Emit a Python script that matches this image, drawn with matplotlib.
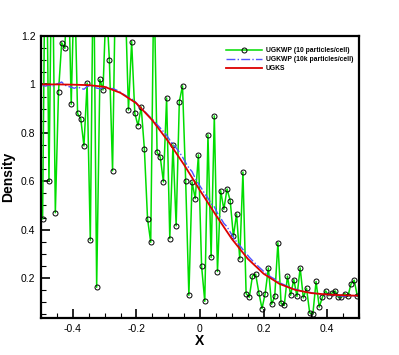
import numpy as np
import matplotlib
matplotlib.use("Agg")
import matplotlib.pyplot as plt
from matplotlib.ticker import MultipleLocator

plt.rcParams['font.family'] = ['Liberation Sans', 'DejaVu Sans']

# cell centres, 100 cells on [-0.5, 0.5]
x_cells = np.arange(100) * 0.01 - 0.495

# UGKWP, 10 particles per cell (values > 1.2 are clipped by the frame)
rho_10 = [0.445, 1.9, 0.602, 1.7, 0.470, 0.970, 1.172, 1.149, 1.5, 0.918,
          1.45, 0.880, 0.858, 0.746, 1.006, 0.356, 1.6, 0.162, 1.021, 0.977,
          1.35, 1.101, 0.643, 1.5, 1.4, 1.6, 1.35, 0.894, 1.177, 0.880,
          0.830, 0.907, 0.735, 0.445, 0.348, 1.45, 0.719, 0.700, 0.597, 0.944,
          0.363, 0.750, 0.416, 0.929, 0.994, 0.599, 0.129, 0.597, 0.528, 0.709,
          0.249, 0.104, 0.792, 0.285, 0.870, 0.227, 0.561, 0.484, 0.568, 0.520,
          0.372, 0.465, 0.279, 0.638, 0.136, 0.121, 0.209, 0.216, 0.140, 0.074,
          0.136, 0.242, 0.092, 0.124, 0.346, 0.095, 0.087, 0.208, 0.129, 0.194,
          0.124, 0.242, 0.118, 0.158, 0.056, 0.052, 0.186, 0.080, 0.121, 0.147,
          0.127, 0.138, 0.147, 0.121, 0.121, 0.136, 0.124, 0.176, 0.191, 0.124]

# UGKWP, 10k particles per cell
rho_10k = [0.995, 0.993, 0.998, 0.990, 1.000, 1.004, 1.010, 0.997, 0.992, 0.988,
           0.984, 0.990, 0.984, 0.980, 0.992, 0.996, 0.988, 0.985, 0.982, 0.986,
           0.989, 0.982, 0.983, 0.978, 0.972, 0.962, 0.955, 0.946, 0.940, 0.932,
           0.912, 0.903, 0.890, 0.876, 0.862, 0.850, 0.834, 0.820, 0.805, 0.790,
           0.770, 0.752, 0.738, 0.720, 0.700, 0.676, 0.655, 0.640, 0.612, 0.590,
           0.570, 0.548, 0.530, 0.508, 0.494, 0.468, 0.448, 0.426, 0.412, 0.390,
           0.368, 0.350, 0.335, 0.318, 0.302, 0.286, 0.272, 0.259, 0.246, 0.234,
           0.222, 0.212, 0.203, 0.196, 0.186, 0.178, 0.172, 0.166, 0.161, 0.157,
           0.152, 0.148, 0.145, 0.143, 0.141, 0.138, 0.136, 0.134, 0.133, 0.132,
           0.131, 0.130, 0.128, 0.127, 0.126, 0.125, 0.126, 0.126, 0.127, 0.126]

# UGKS reference
x_ugks = [-0.5, -0.45, -0.4, -0.35, -0.3, -0.25, -0.2, -0.15, -0.1, -0.05,
          0.0, 0.05, 0.1, 0.15, 0.2, 0.25, 0.3, 0.35, 0.4, 0.45, 0.5]
rho_ugks = [1.000, 1.000, 0.999, 0.997, 0.990, 0.965, 0.922, 0.852, 0.765, 0.668,
            0.562, 0.460, 0.362, 0.280, 0.218, 0.176, 0.151, 0.138, 0.132, 0.129, 0.127]

x_ticks = [-0.4, -0.2, 0, 0.2, 0.4]
x_ticklabels = ['-0.4', '-0.2', '0', '0.2', '0.4']
y_ticks = [0.2, 0.4, 0.6, 0.8, 1.0, 1.2]
y_ticklabels = ['0.2', '0.4', '0.6', '0.8', '1', '1.2']

fig = plt.figure(figsize=(3.99, 3.55), dpi=100)
ax = fig.add_axes([0.1028, 0.1042, 0.7969, 0.7944])

ax.plot(x_cells, rho_10, color='#00dd00', lw=1.1, marker='o', ms=3.6,
        mfc='none', mec='black', mew=0.7, label='UGKWP (10 particles/cell)')
ax.plot(x_cells, rho_10k, color='#5050ff', lw=1.0, ls='-.',
        label='UGKWP (10k particles/cell)')
ax.plot(x_ugks, rho_ugks, color='#dd0000', lw=1.3, label='UGKS')

ax.set_xlim(-0.5, 0.5)
ax.set_ylim(0.035, 1.2)
ax.set_xticks(x_ticks)
ax.set_xticklabels(x_ticklabels)
ax.set_yticks(y_ticks)
ax.set_yticklabels(y_ticklabels)
ax.xaxis.set_minor_locator(MultipleLocator(0.05))
ax.yaxis.set_minor_locator(MultipleLocator(0.05))
ax.tick_params(which='both', direction='in', top=False, right=False,
               labelsize=7.5, width=1.2, pad=4)
ax.tick_params(which='major', length=6.5)
ax.tick_params(which='minor', length=3.5, width=0.8)
for s in ax.spines.values():
    s.set_linewidth(1.6)

ax.set_xlabel('X', fontsize=10, fontweight='bold', labelpad=0)
ax.set_ylabel('Density', fontsize=10, fontweight='bold', labelpad=4)

leg = ax.legend(loc='upper right', bbox_to_anchor=(0.995, 0.975), frameon=False,
                prop={'size': 4.9, 'weight': 'bold'}, handlelength=5.2,
                handletextpad=0.6, labelspacing=0.3, borderaxespad=0.2)

fig.savefig('out.png', dpi=100)
